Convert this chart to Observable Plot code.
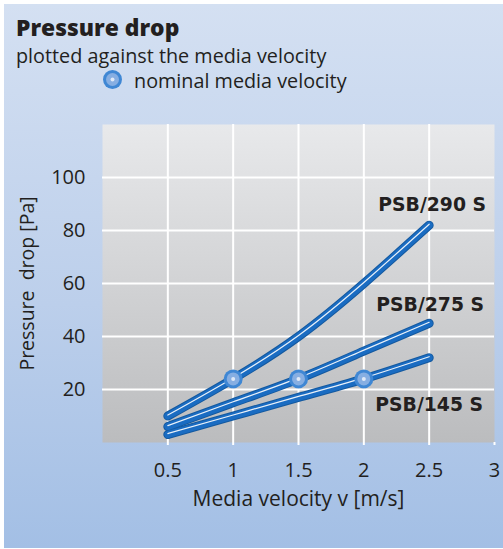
<!DOCTYPE html>
<html>
<head>
<meta charset="utf-8">
<script src="https://cdn.jsdelivr.net/npm/d3@7"></script>
<script src="https://cdn.jsdelivr.net/npm/@observablehq/plot@0.6"></script>
<style>
  html, body { margin: 0; padding: 0; background: #fff; }
  body { width: 503px; height: 549px; position: relative; overflow: hidden; font-family: "Open Sans", sans-serif; }
  #bg { position: absolute; left: 4px; top: 4px; width: 499px; height: 544px;
        background: linear-gradient(to bottom, #d4e0f2 0%, #bccfeb 55%, #a3bfe5 100%); }
  #head { position: absolute; left: 0; top: 0; }
  #chart { position: absolute; left: 0; top: 100px; }
</style>
</head>
<body>
<div id="bg"></div>
<svg id="head" width="503" height="100" font-family="'Open Sans', sans-serif">
  <text x="16" y="36" font-size="22.8" font-weight="800" fill="#231f20">Pressure drop</text>
  <text x="16" y="63" font-size="19.8" fill="#231f20">plotted against the media velocity</text>
  <circle cx="112.5" cy="79.5" r="9.5" fill="#3f87d4"/>
  <circle cx="112.5" cy="79.5" r="6.5" fill="#86aee2"/>
  <circle cx="112.5" cy="79.5" r="2" fill="#dfe9f7"/>
  <text x="134" y="88" font-size="19.8" fill="#231f20">nominal media velocity</text>
</svg>
<div id="chart"></div>
<script>
// ---- data ----
const velocities = [0.5, 1, 1.5, 2, 2.5];
const psb290 = [10, 24, 40, 60, 82];
const psb275 = [6, 15, 24, 34.5, 45];
const psb145 = [3, 10, 17, 24, 32];
const seriesNames = ["PSB/290 S", "PSB/275 S", "PSB/145 S"];
const nominalVelocity = [1, 1.5, 2];
const xTicks = [0.5, 1, 1.5, 2, 2.5, 3];
const yTicks = [20, 40, 60, 80, 100];
const xLabel = "Media velocity v [m/s]";
const yLabel = "Pressure  drop [Pa]";

const seriesValues = [psb290, psb275, psb145];
const rows = [];
seriesNames.forEach((name, i) => velocities.forEach((v, j) => rows.push({series: name, v, p: seriesValues[i][j]})));
const nominal = seriesNames.map((name, i) => ({series: name, v: nominalVelocity[i], p: seriesValues[i][velocities.indexOf(nominalVelocity[i])]}));
const ends = seriesNames.map((name, i) => ({series: name, v: velocities[velocities.length - 1], p: seriesValues[i][velocities.length - 1]}));

const lineColor = "#1a6cc2";
const font = "'Open Sans', sans-serif";
const boldFont = "'DejaVu Sans', sans-serif";
const ink = "#231f20";

const labelOpts = {x: "v", y: "p", text: "series", fontSize: 18.8, fontWeight: "bold", fontFamily: boldFont, fill: ink};

const chart = Plot.plot({
  width: 503,
  height: 430,
  marginTop: 24,
  marginBottom: 88,
  marginLeft: 102,
  marginRight: 9,
  style: {background: "transparent", fontFamily: font, color: ink, overflow: "visible"},
  x: {domain: [0, 3]},
  y: {domain: [0, 120]},
  marks: [
    Plot.frame({fill: "url(#panelGrad)", stroke: "none"}),
    Plot.ruleX(xTicks.slice(0, -1), {stroke: "white", strokeWidth: 2}),
    Plot.ruleY(yTicks, {stroke: "white", strokeWidth: 2}),
    Plot.axisX(xTicks, {tickSize: 3, tickPadding: 17, stroke: "white", strokeWidth: 2, fontSize: 20, fill: ink, label: null, tickFormat: d => String(d)}),
    Plot.axisY(yTicks, {tickSize: 0, tickPadding: 17, fontSize: 20, fill: ink, label: null}),
    Plot.text([xLabel], {frameAnchor: "bottom", dy: 63, fontSize: 21, fill: ink, text: d => d}),
    Plot.text([yLabel], {frameAnchor: "left", textAnchor: "middle", dx: -75, rotate: -90, fontSize: 19.5, fill: ink, text: d => d}),
    Plot.line(rows, {x: "v", y: "p", z: "series", curve: "natural", stroke: "#14599f", strokeWidth: 9, strokeLinecap: "round"}),
    Plot.line(rows, {x: "v", y: "p", z: "series", curve: "natural", stroke: lineColor, strokeWidth: 7, strokeLinecap: "round"}),
    Plot.line(rows, {x: "v", y: "p", z: "series", curve: "natural", stroke: "white", strokeWidth: 1.2, dy: -1, strokeOpacity: 0.9}),
    Plot.dot(nominal, {x: "v", y: "p", r: 9.5, fill: "#3f87d4", stroke: "none"}),
    Plot.dot(nominal, {x: "v", y: "p", r: 6.5, fill: "#86aee2", stroke: "none"}),
    Plot.dot(nominal, {x: "v", y: "p", r: 2, fill: "#dfe9f7", stroke: "none"}),
    Plot.text(ends.filter(d => d.series === seriesNames[0]), {...labelOpts, dy: -20, dx: 3}),
    Plot.text(ends.filter(d => d.series === seriesNames[1]), {...labelOpts, dy: -18, dx: 1}),
    Plot.text(ends.filter(d => d.series === seriesNames[2]), {...labelOpts, dy: 47, dx: 0})
  ]
});

const svgNS = "http://www.w3.org/2000/svg";
const defs = document.createElementNS(svgNS, "defs");
defs.innerHTML = `<linearGradient id="panelGrad" x1="0" y1="0" x2="0" y2="1">
  <stop offset="0" stop-color="#e8e9eb"/><stop offset="1" stop-color="#bbbcbe"/></linearGradient>`;
chart.insertBefore(defs, chart.firstChild);
document.getElementById("chart").appendChild(chart);
</script>
</body>
</html>
